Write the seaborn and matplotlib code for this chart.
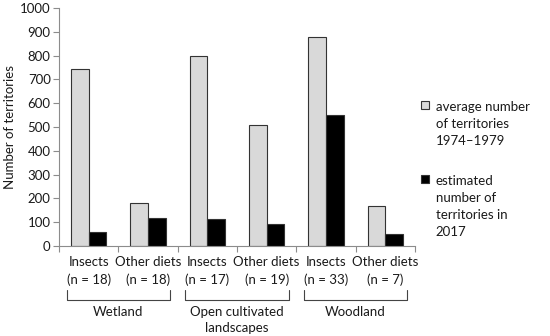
import pandas as pd
import matplotlib
matplotlib.use("Agg")
import matplotlib.pyplot as plt
import seaborn as sns

# Data
diet_labels = ["Insects\n(n = 18)", "Other diets\n(n = 18)",
               "Insects\n(n = 17)", "Other diets\n(n = 19)",
               "Insects\n(n = 33)", "Other diets\n(n = 7)"]
habitats = ["Wetland", "Open cultivated\nlandscapes", "Woodland"]
avg_1974_1979 = [742, 180, 797, 507, 880, 167]
est_2017 = [58, 117, 113, 92, 552, 52]
series_names = ["average number\nof territories\n1974\u20131979",
                "estimated\nnumber of\nterritories in\n2017"]

# Long-form table for seaborn
df = pd.DataFrame({
    "group": diet_labels * 2,
    "period": [series_names[0]] * len(diet_labels) + [series_names[1]] * len(diet_labels),
    "territories": avg_1974_1979 + est_2017,
})

sns.set_theme(style="white")
plt.rcParams["font.family"] = ["Lato", "DejaVu Sans"]
fs = 9.5
text_col = "#1a1a1a"

fig = plt.figure(figsize=(5.5, 3.36), dpi=100)
ax = fig.add_axes([59 / 550, 1 - 246 / 336, 356 / 550, 238 / 336])

sns.barplot(data=df, x="group", y="territories", hue="period",
            palette=["#d9d9d9", "#000000"], width=0.6, gap=0,
            edgecolor="#333333", linewidth=0.8, ax=ax)

axis_grey = "#8c8c8c"
ax.set_xlim(-0.5, len(diet_labels) - 0.5)
ax.set_ylim(0, 1000)
ax.set_yticks(range(0, 1001, 100))
ax.set_ylabel("Number of territories", fontsize=fs, color=text_col, labelpad=3)
ax.set_xlabel("")
for s in ["top", "right"]:
    ax.spines[s].set_visible(False)
for s in ["left", "bottom"]:
    ax.spines[s].set_color(axis_grey)
    ax.spines[s].set_linewidth(0.8)

# category labels on minor ticks, boundary tick marks on major ticks
ax.set_xticks([i - 0.5 for i in range(len(diet_labels) + 1)])
ax.set_xticklabels([])
ax.set_xticks(range(len(diet_labels)), minor=True)
ax.set_xticklabels(diet_labels, minor=True, fontsize=fs, color=text_col, linespacing=1.5)
ax.tick_params(axis="x", which="major", direction="out", length=4, width=0.8,
               color=axis_grey, bottom=True)
ax.tick_params(axis="x", which="minor", length=0, pad=7)
ax.tick_params(axis="y", direction="out", length=4, width=0.8, color=axis_grey,
               left=True, labelsize=fs, labelcolor=text_col, pad=2)

# habitat brackets below the tick labels
trans = ax.get_xaxis_transform()
for k, name in enumerate(habitats):
    x0, x1 = 2 * k - 0.37, 2 * k + 1.37
    ax.plot([x0, x0, x1, x1], [-0.185, -0.227, -0.227, -0.185], transform=trans,
            color="#444444", lw=0.8, clip_on=False)
    ax.text(2 * k + 0.5, -0.25, name, transform=trans, ha="center", va="top",
            fontsize=fs, color=text_col, linespacing=1.45)

# legend on the right, markers beside the first line of each label
handles, labels = ax.get_legend_handles_labels()
ax.get_legend().remove()
leg = fig.legend(handles, labels, loc="upper left", bbox_to_anchor=(421 / 550, 1 - 101 / 336),
                 frameon=False, fontsize=fs, handlelength=0.6, handleheight=0.6,
                 handletextpad=0.5, labelspacing=2.1, borderpad=0, borderaxespad=0)
for t in leg.get_texts():
    t.set_color(text_col)
    t.set_linespacing(1.5)
for column in leg._legend_handle_box.get_children():
    for item in column.get_children():
        item.align = "top"

fig.savefig("out.png", dpi=100, facecolor="white")
